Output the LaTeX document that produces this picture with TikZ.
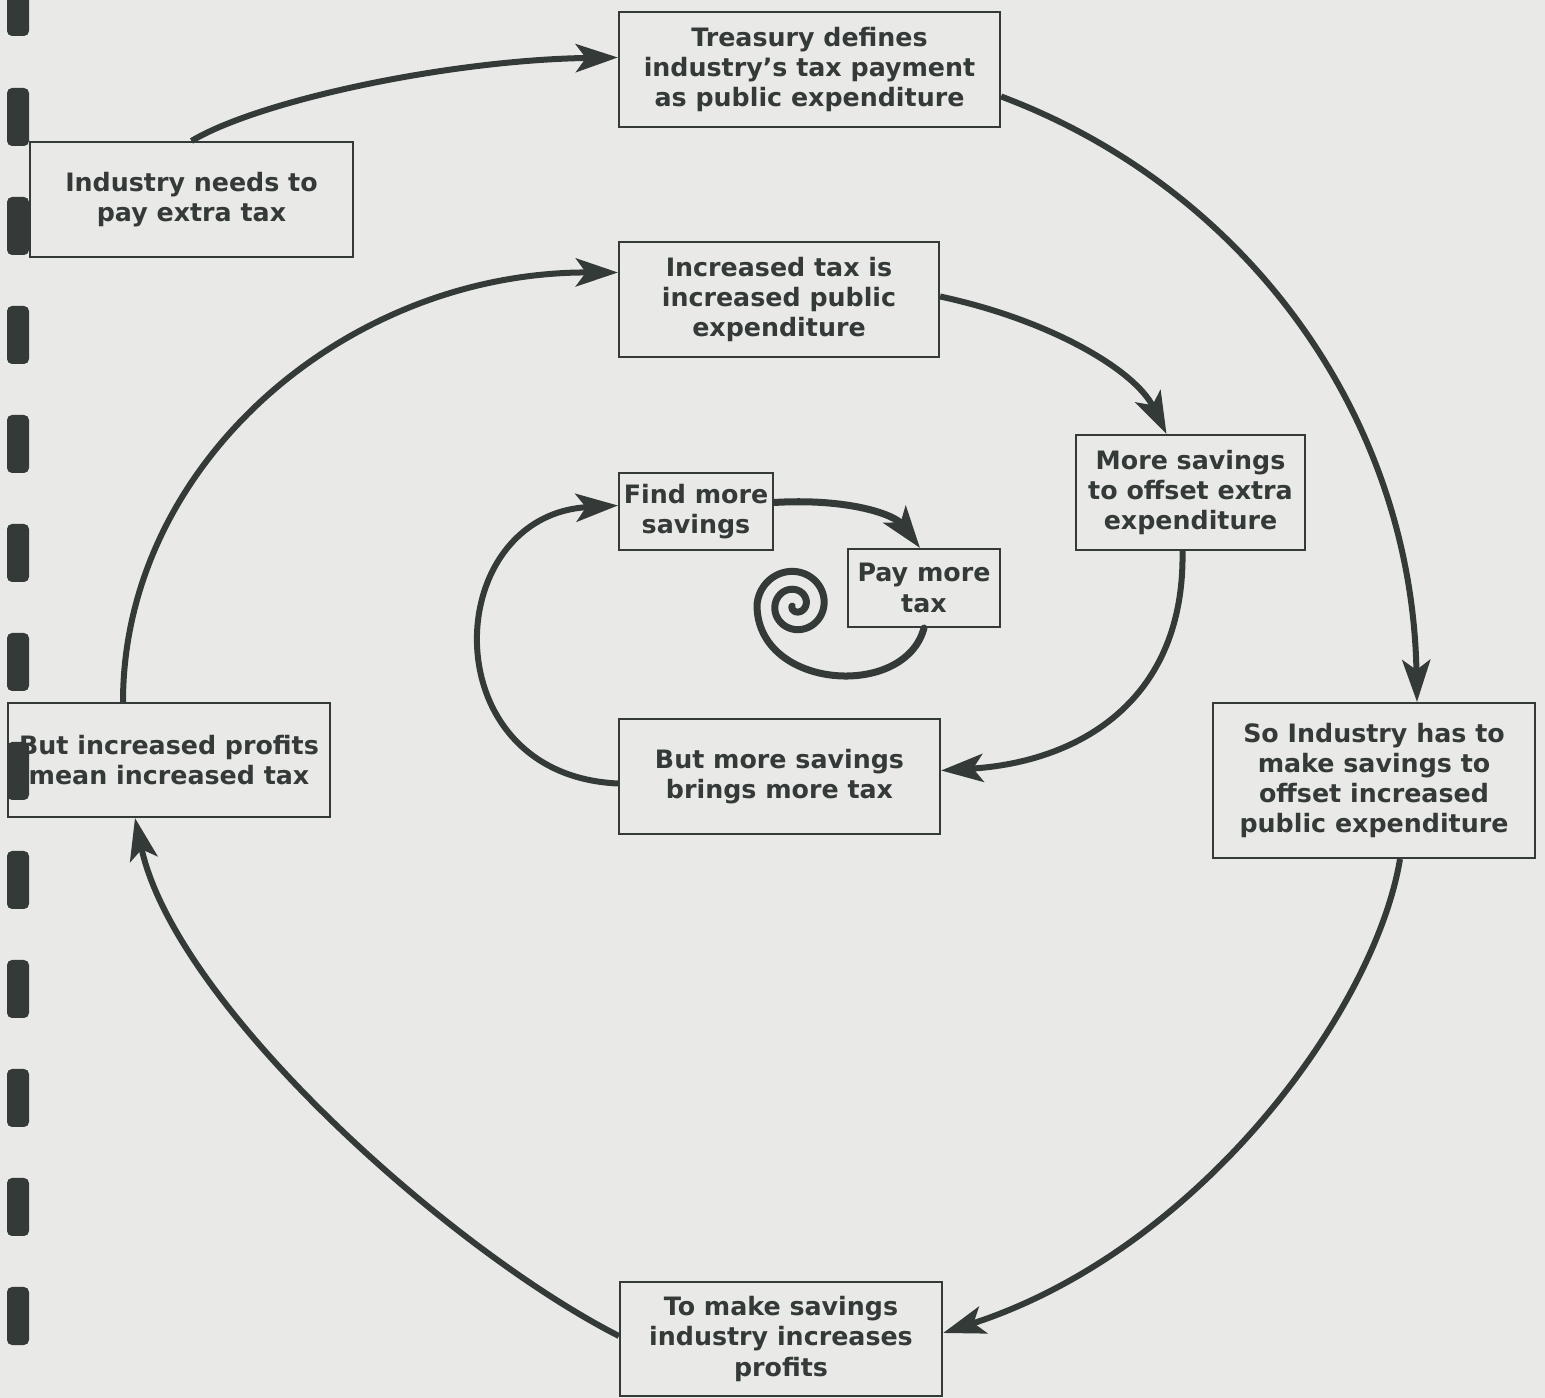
\documentclass[tikz,border=0pt]{standalone}
\usepackage{fontspec}
\setmainfont{DejaVu Sans}
\usetikzlibrary{arrows.meta,calc}
\definecolor{ink}{RGB}{52,58,56}
\definecolor{paper}{RGB}{233,233,231}

\begin{document}
\begin{tikzpicture}[x=0.01cm, y=-0.01cm, every node/.style={block},
  block/.style={draw=ink,text=ink,line width=0.02cm,rectangle,inner sep=0pt,align=center,
    font=\bfseries\fontsize{7.2pt}{8.6pt}\selectfont},
  flow/.style={draw=ink,line width=0.06cm,-{Stealth[length=4.2mm,width=2.8mm,inset=1mm]}},
  swirl/.style={draw=ink,line width=0.07cm,line cap=round}]

        \path[use as bounding box,fill=paper] (0,0) rectangle (1545,1398);

        \node (A) [minimum width=3.23cm,minimum height=1.15cm] at (191.5,199.5) {Industry needs to\\pay extra tax};
        \node (B) [minimum width=3.81cm,minimum height=1.15cm] at (809.5,69.5) {Treasury defines\\industry's tax payment\\as public expenditure};
        \node (C) [minimum width=3.22cm,minimum height=1.55cm] at (1374,780.5) {So Industry has to\\make savings to\\offset increased\\public expenditure};
        \node (D) [minimum width=3.22cm,minimum height=1.14cm] at (781,1339) {To make savings\\industry increases\\profits};
        \node (E) [minimum width=3.22cm,minimum height=1.14cm] at (169,760) {But increased profits\\mean increased tax};
        \node (F) [minimum width=3.2cm,minimum height=1.15cm] at (779,299.5) {Increased tax is\\increased public\\expenditure};
        \node (G) [minimum width=2.29cm,minimum height=1.15cm] at (1190.5,492.5) {More savings\\to offset extra\\expenditure};
        \node (H) [minimum width=3.21cm,minimum height=1.15cm] at (779.5,776.5) {But more savings\\brings more tax};
        \node (I) [minimum width=1.54cm,minimum height=0.77cm] at (696,511.5) {Find more\\savings};
        \node (J) [minimum width=1.52cm,minimum height=0.78cm] at (924,588) {Pay more\\tax};

        \draw[flow] (A.north) .. controls (260,100) and (450,60) .. ($(B.west)+(0,-12)$);
        \draw[flow] ($(B.east)+(0,27)$) .. controls (1250,190) and (1412,420) .. ($(C.north)+(43,0)$);
        \draw[flow] ($(C.south)+(26,0)$) .. controls (1375,1010) and (1200,1250) .. ($(D.east)+(0,-6)$);
        \draw[flow] ($(D.west)+(0,-3)$) .. controls (450,1250) and (175,1005) .. ($(E.south)+(-34,0)$);
        \draw[flow] ($(E.north)+(-46,0)$) .. controls (123,465) and (345,272) .. ($(F.west)+(0,-27)$);
        \draw[flow] ($(F.east)+(0,-3)$) .. controls (1050,320) and (1135,370) .. ($(G.north)+(-24,0)$);
        \draw[flow] ($(G.south)+(-8,0)$) .. controls (1185,700) and (1080,762) .. ($(H.east)+(0,-6)$);
        \draw[flow] ($(H.west)+(0,7)$) .. controls (430,775) and (440,515) .. ($(I.west)+(0,-6)$);
        \draw[flow,line width=0.07cm] ($(I.east)+(0,-9)$) .. controls (850,498) and (895,515) .. ($(J.north)+(-4,0)$);
        \draw[swirl] (J.south) .. controls (905,700) and (757,690) .. (757,605)
          -- plot[domain=180:880,samples=200,smooth] ({795+(38-0.05*(\x-180))*cos(\x)},{605+(38-0.05*(\x-180))*sin(\x)});

        % punch holes of the scan
        \fill[ink,rounded corners=0.05cm] (7,-8) rectangle (29,36);
        \foreach \y in {88,197,306,415,524,633,742,851,960,1069,1178,1287}
          \fill[ink,rounded corners=0.05cm] (7,\y) rectangle (29,\y+58);
      \end{tikzpicture}
\end{document}
